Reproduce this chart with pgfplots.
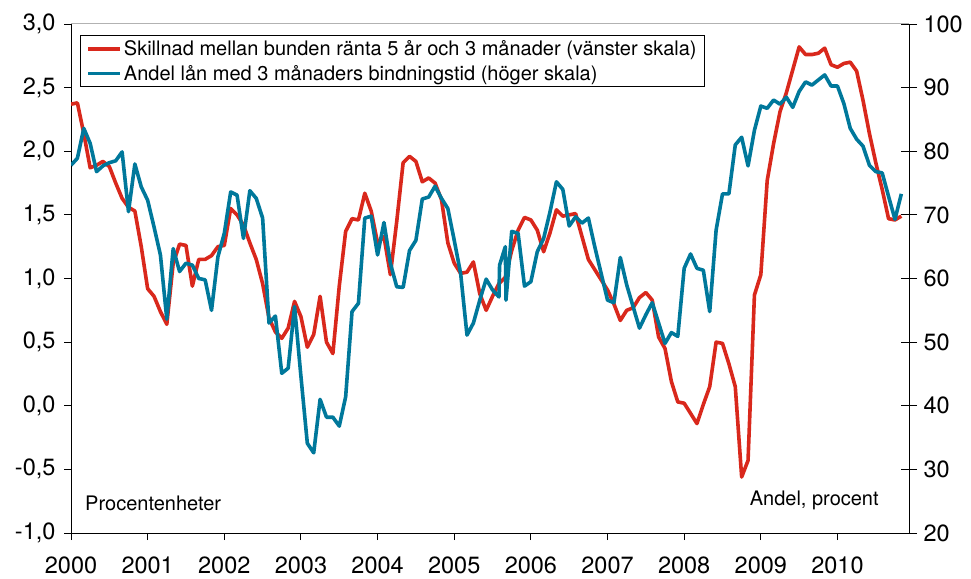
\documentclass[border=0pt]{standalone}
\usepackage{pgfplots}
\pgfplotsset{compat=1.18}
\usepackage{fontspec}
\setmainfont{TeX Gyre Heros}
\definecolor{cred}{RGB}{217,40,28}
\definecolor{cblue}{RGB}{0,120,155}
\begin{document}
\begin{tikzpicture}
\pgfplotsset{
  every axis/.append style={
    scale only axis, width=838bp, height=509bp,
    xmin=0, xmax=131.2,
    tick label style={font=\fontsize{23.5bp}{24bp}\selectfont},
    /pgf/number format/assume math mode=true,
    axis line style={-, black, line width=1bp},
    tick style={black, line width=0.9bp},
  }
}
\begin{axis}[
  axis x line*=bottom, axis y line*=left,
  ymin=-1, ymax=3,
  ytick={-1,-0.5,0,0.5,1,1.5,2,2.5,3},
  yticklabel style={/pgf/number format/fixed, /pgf/number format/fixed zerofill, /pgf/number format/precision=1, /pgf/number format/use comma, xshift=-5bp},
  xtick={0,12,24,36,48,60,72,84,96,108,120},
  xticklabels={2000,2001,2002,2003,2004,2005,2006,2007,2008,2009,2010},
  tick align=outside, major tick length=7bp,
  xticklabel style={yshift=-13bp},
]
\draw[gray!60, line width=1bp] (rel axis cs:0,1) -- (rel axis cs:1,1);
\addplot[cred, line width=3.6bp, line join=round] table {
0 2.37
1 2.38
2 2.14
3 1.87
4 1.89
5 1.92
6 1.88
7 1.75
8 1.63
9 1.56
10 1.53
11 1.25
12 0.92
13 0.86
14 0.74
15 0.64
16 1.12
17 1.27
18 1.26
19 0.94
20 1.15
21 1.15
22 1.18
23 1.25
24 1.26
25 1.55
26 1.50
27 1.42
28 1.28
29 1.15
30 0.96
31 0.69
32 0.58
33 0.53
34 0.61
35 0.82
36 0.70
37 0.46
38 0.56
39 0.86
40 0.50
41 0.41
42 0.94
43 1.37
44 1.47
45 1.46
46 1.67
47 1.53
48 1.28
49 1.33
50 1.03
51 1.45
52 1.91
53 1.96
54 1.92
55 1.76
56 1.79
57 1.75
58 1.62
59 1.28
60 1.12
61 1.04
62 1.05
63 1.13
64 0.88
65 0.75
66 0.86
67 0.96
68 1.01
69 1.22
70 1.38
71 1.48
72 1.46
73 1.38
74 1.21
75 1.36
76 1.54
77 1.49
78 1.50
79 1.51
80 1.33
81 1.15
82 1.07
83 0.99
84 0.91
85 0.80
86 0.67
87 0.75
88 0.77
89 0.85
90 0.89
91 0.83
92 0.54
93 0.45
94 0.19
95 0.03
96 0.02
97 -0.06
98 -0.14
99 0.01
100 0.15
101 0.50
102 0.49
103 0.33
104 0.15
105 -0.56
106 -0.43
107 0.87
108 1.03
109 1.77
110 2.06
111 2.31
112 2.46
113 2.64
114 2.82
115 2.76
116 2.76
117 2.77
118 2.81
119 2.68
120 2.66
121 2.69
122 2.70
123 2.63
124 2.40
125 2.14
126 1.91
127 1.70
128 1.47
129 1.46
130 1.49
};
\node[anchor=base west, font=\fontsize{20bp}{20bp}\selectfont] at (rel axis cs:0.0128,0.044) {Procentenheter};
\node[anchor=base east, font=\fontsize{20bp}{20bp}\selectfont] at (rel axis cs:0.968,0.055) {Andel, procent};
\coordinate (bl) at (rel axis cs:0,0);
\coordinate (tr) at (rel axis cs:1,1);
\end{axis}
\begin{axis}[
  axis x line=none, axis y line*=right,
  ymin=20, ymax=100,
  ytick={20,30,40,50,60,70,80,90,100},
  xtick=\empty,
  tick align=center, major tick length=16bp,
  yticklabel style={xshift=3bp},
  legend cell align=left,
  legend style={at={(0.0107,0.978)}, anchor=north west, draw=black, line width=0.8bp,
    font=\fontsize{20bp}{22bp}\selectfont, inner xsep=6bp, inner ysep=3bp,
    row sep=4bp},
  legend image code/.code={\draw[#1, line width=3.6bp] (0bp,0bp) -- (32bp,0bp);},
]
\addlegendimage{cred}
\addlegendentry{Skillnad mellan bunden ränta 5 år och 3 månader (vänster skala)}
\addplot[cblue, line width=3.6bp, line join=round] table {
0 77.8
1 78.9
2 83.6
3 81.25
4 76.8
5 77.7
6 78.2
7 78.5
8 79.9
9 70.5
10 78.0
11 74.4
12 72.3
13 68.1
14 63.7
15 53.6
16 64.7
17 61.1
18 62.4
19 62.1
20 60.0
21 59.8
22 55.0
23 63.4
24 67.1
25 73.6
26 73.1
27 66.3
28 73.8
29 72.6
30 69.5
31 53.0
32 54.1
33 45.1
34 45.9
35 55.6
36 44.6
37 34.1
38 32.6
39 41.0
40 38.2
41 38.2
42 36.8
43 41.4
44 54.8
45 56.1
46 69.5
47 69.8
48 63.7
49 68.8
50 62.4
51 58.7
52 58.6
53 64.4
54 66.0
55 72.5
56 72.8
57 74.5
58 72.6
59 71.0
60 66.0
61 60.8
62 51.1
63 53.0
64 56.6
65 59.9
66 58.2
67 57.1
67.1 62.1
68 65.0
68.1 56.6
69 67.4
70 67.1
71 58.8
72 59.5
73 64.2
74 66.3
75 70.5
76 75.2
77 74.0
78 68.25
79 69.7
80 68.7
81 69.5
82 65.0
83 60.8
84 56.6
85 56.2
86 63.3
87 59.0
88 55.6
89 52.2
90 54.3
91 56.2
92 53.0
93 49.8
94 51.5
95 50.9
96 61.6
97 63.85
98 61.6
99 61.3
100 54.8
101 67.6
102 73.3
103 73.3
104 81.0
105 82.2
106 77.7
107 83.3
108 87.1
109 86.75
110 88.05
111 87.4
112 88.5
113 86.9
114 89.4
115 90.9
116 90.4
117 91.2
118 92.0
119 90.25
120 90.25
121 87.5
122 83.6
123 81.9
124 80.8
125 77.8
126 76.8
127 76.6
128 72.9
129 69.3
130 73.3
};
\addlegendentry{Andel lån med 3 månaders bindningstid (höger skala)}
\end{axis}
\pgfresetboundingbox
\path ([shift={(-71bp,-46bp)}]bl) rectangle ([shift={(62bp,24bp)}]tr);
\end{tikzpicture}
\end{document}
